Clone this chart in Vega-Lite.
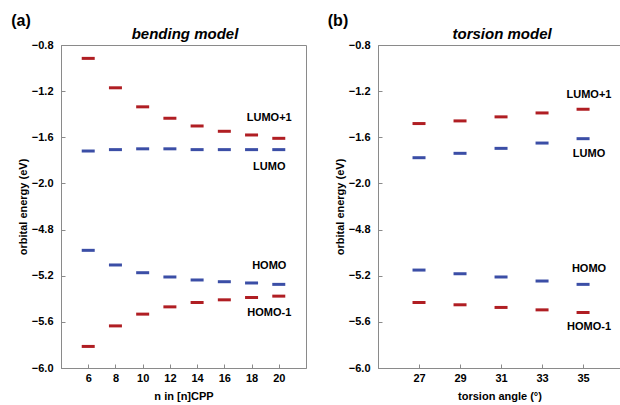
{
  "$schema": "https://vega.github.io/schema/vega-lite/v6.json",
  "padding": {"left": 10, "top": 12, "right": 0, "bottom": 0},
  "spacing": 20,
  "config": {
    "font": "Liberation Sans",
    "view": {"stroke": "#8a8a8a", "strokeWidth": 1},
    "tick": {"opacity": 1},
    "axis": {
      "grid": false,
      "domainColor": "#8a8a8a",
      "tickColor": "#8a8a8a",
      "tickSize": -4,
      "labelFont": "Liberation Sans",
      "labelFontWeight": "bold",
      "labelFontSize": 11,
      "labelColor": "#000000",
      "titleFont": "Liberation Sans",
      "titleFontWeight": "bold",
      "titleFontSize": 11,
      "titleColor": "#000000"
    }
  },
  "datasets": {
    "bend": [
      {"n": 6, "energy": -0.916, "orbital": "LUMO+1"},
      {"n": 8, "energy": -1.171, "orbital": "LUMO+1"},
      {"n": 10, "energy": -1.336, "orbital": "LUMO+1"},
      {"n": 12, "energy": -1.435, "orbital": "LUMO+1"},
      {"n": 14, "energy": -1.502, "orbital": "LUMO+1"},
      {"n": 16, "energy": -1.548, "orbital": "LUMO+1"},
      {"n": 18, "energy": -1.580, "orbital": "LUMO+1"},
      {"n": 20, "energy": -1.609, "orbital": "LUMO+1"},
      {"n": 6, "energy": -1.719, "orbital": "LUMO"},
      {"n": 8, "energy": -1.707, "orbital": "LUMO"},
      {"n": 10, "energy": -1.700, "orbital": "LUMO"},
      {"n": 12, "energy": -1.700, "orbital": "LUMO"},
      {"n": 14, "energy": -1.707, "orbital": "LUMO"},
      {"n": 16, "energy": -1.707, "orbital": "LUMO"},
      {"n": 18, "energy": -1.707, "orbital": "LUMO"},
      {"n": 20, "energy": -1.707, "orbital": "LUMO"},
      {"n": 6, "energy": -4.980, "orbital": "HOMO"},
      {"n": 8, "energy": -5.107, "orbital": "HOMO"},
      {"n": 10, "energy": -5.174, "orbital": "HOMO"},
      {"n": 12, "energy": -5.211, "orbital": "HOMO"},
      {"n": 14, "energy": -5.237, "orbital": "HOMO"},
      {"n": 16, "energy": -5.252, "orbital": "HOMO"},
      {"n": 18, "energy": -5.263, "orbital": "HOMO"},
      {"n": 20, "energy": -5.275, "orbital": "HOMO"},
      {"n": 6, "energy": -5.813, "orbital": "HOMO-1"},
      {"n": 8, "energy": -5.635, "orbital": "HOMO-1"},
      {"n": 10, "energy": -5.533, "orbital": "HOMO-1"},
      {"n": 12, "energy": -5.470, "orbital": "HOMO-1"},
      {"n": 14, "energy": -5.432, "orbital": "HOMO-1"},
      {"n": 16, "energy": -5.409, "orbital": "HOMO-1"},
      {"n": 18, "energy": -5.389, "orbital": "HOMO-1"},
      {"n": 20, "energy": -5.377, "orbital": "HOMO-1"}
    ],
    "tors": [
      {"angle": 27, "energy": -1.481, "orbital": "LUMO+1"},
      {"angle": 29, "energy": -1.458, "orbital": "LUMO+1"},
      {"angle": 31, "energy": -1.423, "orbital": "LUMO+1"},
      {"angle": 33, "energy": -1.389, "orbital": "LUMO+1"},
      {"angle": 35, "energy": -1.357, "orbital": "LUMO+1"},
      {"angle": 27, "energy": -1.777, "orbital": "LUMO"},
      {"angle": 29, "energy": -1.739, "orbital": "LUMO"},
      {"angle": 31, "energy": -1.696, "orbital": "LUMO"},
      {"angle": 33, "energy": -1.650, "orbital": "LUMO"},
      {"angle": 35, "energy": -1.612, "orbital": "LUMO"},
      {"angle": 27, "energy": -5.151, "orbital": "HOMO"},
      {"angle": 29, "energy": -5.183, "orbital": "HOMO"},
      {"angle": 31, "energy": -5.211, "orbital": "HOMO"},
      {"angle": 33, "energy": -5.246, "orbital": "HOMO"},
      {"angle": 35, "energy": -5.275, "orbital": "HOMO"},
      {"angle": 27, "energy": -5.432, "orbital": "HOMO-1"},
      {"angle": 29, "energy": -5.452, "orbital": "HOMO-1"},
      {"angle": 31, "energy": -5.475, "orbital": "HOMO-1"},
      {"angle": 33, "energy": -5.496, "orbital": "HOMO-1"},
      {"angle": 35, "energy": -5.519, "orbital": "HOMO-1"}
    ],
    "bendText": [
      {"n": 19.3, "energy": -1.435, "text": "LUMO+1", "kind": "orbital"},
      {"n": 19.3, "energy": -1.861, "text": "LUMO", "kind": "orbital"},
      {"n": 19.3, "energy": -5.113, "text": "HOMO", "kind": "orbital"},
      {"n": 19.3, "energy": -5.522, "text": "HOMO-1", "kind": "orbital"},
      {"n": 1.06, "energy": -0.591, "text": "(a)", "kind": "panel"},
      {"n": 13.11, "energy": -0.704, "text": "bending model", "kind": "title"}
    ],
    "torsText": [
      {"angle": 35.29, "energy": -1.235, "text": "LUMO+1", "kind": "orbital"},
      {"angle": 35.29, "energy": -1.748, "text": "LUMO", "kind": "orbital"},
      {"angle": 35.29, "energy": -5.139, "text": "HOMO", "kind": "orbital"},
      {"angle": 35.29, "energy": -5.643, "text": "HOMO-1", "kind": "orbital"},
      {"angle": 23.05, "energy": -0.591, "text": "(b)", "kind": "panel"},
      {"angle": 31.05, "energy": -0.704, "text": "torsion model", "kind": "title"}
    ]
  },
  "hconcat": [
    {
      "width": 245,
      "height": 323,
      "encoding": {
        "x": {"field": "n", "type": "quantitative", "scale": {"domain": [4, 22], "nice": false, "zero": false},
              "axis": {"values": [6, 8, 10, 12, 14, 16, 18, 20], "title": "n in [n]CPP", "labelPadding": 8, "titlePadding": 7}},
        "y": {"field": "energy", "type": "quantitative",
              "scale": {"domain": [-6.0, -4.8, -2.0, -0.8], "range": [323, 184.571, 138.429, 0], "nice": false, "zero": false},
              "axis": {"values": [-0.8, -1.2, -1.6, -2.0, -4.8, -5.2, -5.6, -6.0], "format": ".1f", "title": "orbital energy (eV)", "labelPadding": 12, "titlePadding": 3}}
      },
      "layer": [
        {
          "data": {"name": "bend"},
          "mark": {"type": "tick", "orient": "horizontal", "size": 13, "thickness": 3, "opacity": 1},
          "encoding": {
            "color": {"field": "orbital", "type": "nominal", "legend": null,
                      "scale": {"domain": ["LUMO+1", "LUMO", "HOMO", "HOMO-1"], "range": ["#b01e23", "#3b4ea6", "#3b4ea6", "#b01e23"]}}
          }
        },
        {
          "data": {"name": "bendText"},
          "transform": [{"filter": "datum.kind === 'orbital'"}],
          "mark": {"type": "text", "font": "Liberation Sans", "fontWeight": "bold", "fontSize": 11, "align": "center", "baseline": "middle", "color": "#000000"},
          "encoding": {"text": {"field": "text"}}
        },
        {
          "data": {"name": "bendText"},
          "transform": [{"filter": "datum.kind === 'panel'"}],
          "mark": {"type": "text", "font": "Liberation Sans", "fontWeight": "bold", "fontSize": 16, "align": "center", "baseline": "middle", "color": "#000000", "clip": false},
          "encoding": {"text": {"field": "text"}}
        },
        {
          "data": {"name": "bendText"},
          "transform": [{"filter": "datum.kind === 'title'"}],
          "mark": {"type": "text", "font": "Liberation Sans", "fontWeight": "bold", "fontStyle": "italic", "fontSize": 15, "align": "center", "baseline": "middle", "color": "#000000", "clip": false},
          "encoding": {"text": {"field": "text"}}
        }
      ]
    },
    {
      "width": 243,
      "height": 323,
      "encoding": {
        "x": {"field": "angle", "type": "quantitative", "scale": {"domain": [25, 36.85], "nice": false, "zero": false},
              "axis": {"values": [27, 29, 31, 33, 35], "title": "torsion angle (°)", "labelPadding": 8, "titlePadding": 7}},
        "y": {"field": "energy", "type": "quantitative",
              "scale": {"domain": [-6.0, -4.8, -2.0, -0.8], "range": [323, 184.571, 138.429, 0], "nice": false, "zero": false},
              "axis": {"values": [-0.8, -1.2, -1.6, -2.0, -4.8, -5.2, -5.6, -6.0], "format": ".1f", "title": "orbital energy (eV)", "labelPadding": 12, "titlePadding": 3}}
      },
      "layer": [
        {
          "data": {"name": "tors"},
          "mark": {"type": "tick", "orient": "horizontal", "size": 13, "thickness": 3, "opacity": 1},
          "encoding": {
            "color": {"field": "orbital", "type": "nominal", "legend": null,
                      "scale": {"domain": ["LUMO+1", "LUMO", "HOMO", "HOMO-1"], "range": ["#b01e23", "#3b4ea6", "#3b4ea6", "#b01e23"]}}
          }
        },
        {
          "data": {"name": "torsText"},
          "transform": [{"filter": "datum.kind === 'orbital'"}],
          "mark": {"type": "text", "font": "Liberation Sans", "fontWeight": "bold", "fontSize": 11, "align": "center", "baseline": "middle", "color": "#000000"},
          "encoding": {"text": {"field": "text"}}
        },
        {
          "data": {"name": "torsText"},
          "transform": [{"filter": "datum.kind === 'panel'"}],
          "mark": {"type": "text", "font": "Liberation Sans", "fontWeight": "bold", "fontSize": 16, "align": "center", "baseline": "middle", "color": "#000000", "clip": false},
          "encoding": {"text": {"field": "text"}}
        },
        {
          "data": {"name": "torsText"},
          "transform": [{"filter": "datum.kind === 'title'"}],
          "mark": {"type": "text", "font": "Liberation Sans", "fontWeight": "bold", "fontStyle": "italic", "fontSize": 15, "align": "center", "baseline": "middle", "color": "#000000", "clip": false},
          "encoding": {"text": {"field": "text"}}
        }
      ]
    }
  ]
}
